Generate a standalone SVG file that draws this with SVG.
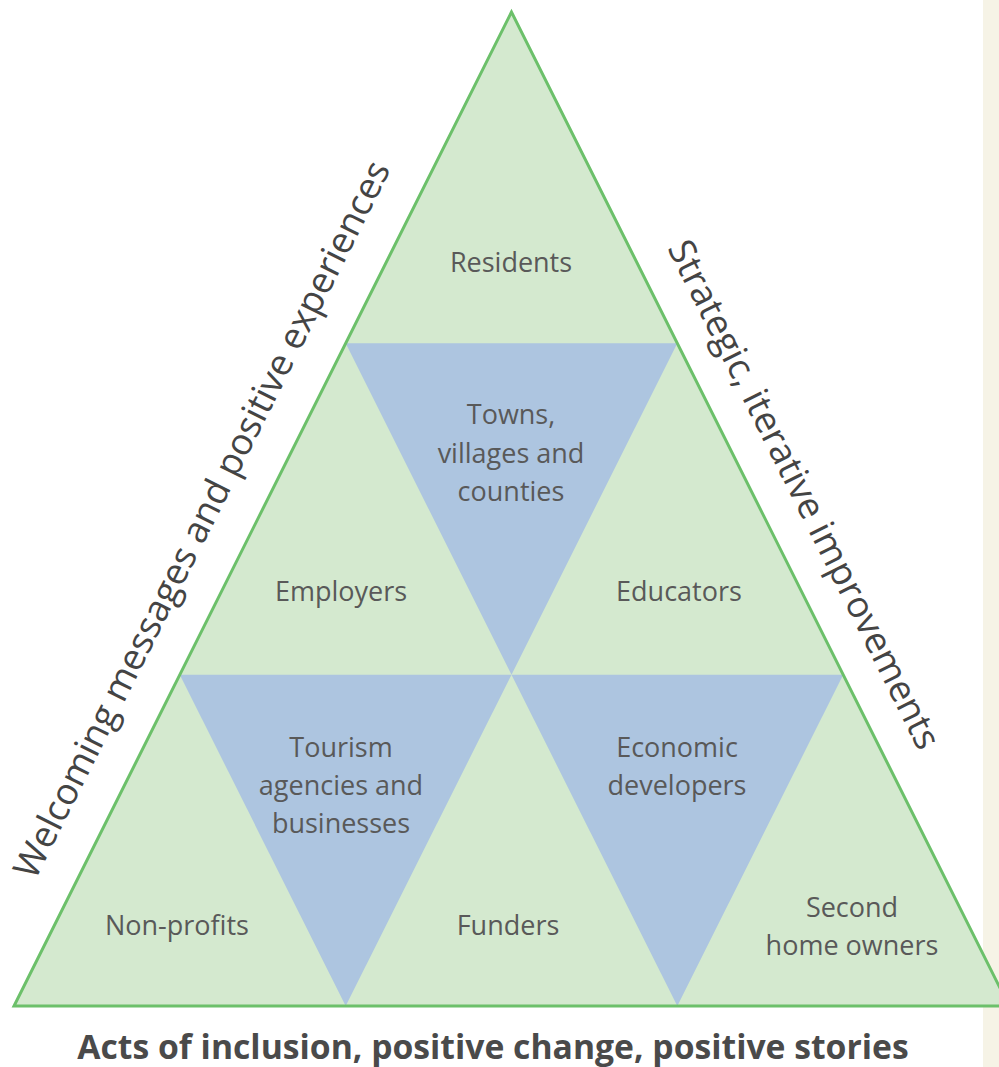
<svg xmlns="http://www.w3.org/2000/svg" width="999" height="1067" viewBox="0 0 999 1067">
<style>
.g{fill:#d4e9cf;}
.b{fill:#adc5e0;}
.lbl{font-family:"Open Sans","Noto Sans",sans-serif;font-size:27px;fill:#595959;text-anchor:middle;}
.side{font-family:"Open Sans","Noto Sans",sans-serif;font-size:36.6px;fill:#444444;text-anchor:middle;}
.base{font-family:"Open Sans","Noto Sans",sans-serif;font-size:33.7px;font-weight:bold;fill:#4a4a4a;text-anchor:middle;}
</style>
<rect x="0" y="0" width="999" height="1067" fill="#ffffff"/>
<rect x="983" y="0" width="16" height="1067" fill="#f6f3e6"/>
<g id="pyramid">
<polygon class="g" points="511.5,12 14,1006 1009,1006"/>
</g>
<g id="blue">
<polygon id="towns-shape" class="b" points="345.7,343.3 677.3,343.3 511.5,674.7"/>
<polygon id="tourism-shape" class="b" points="179.8,674.7 511.5,674.7 345.7,1006"/>
<polygon id="economic-shape" class="b" points="511.5,674.7 843.2,674.7 677.3,1006"/>
</g>
<g id="outline">
<polygon points="511.5,12 14,1006 1009,1006" fill="none" stroke="#6cc06a" stroke-width="3" stroke-linejoin="miter"/>
</g>
<g id="residents"><text class="lbl" x="511" y="272">Residents</text></g>
<g id="towns"><text class="lbl" x="511" y="424">Towns,</text><text class="lbl" x="511" y="463">villages and</text><text class="lbl" x="511" y="501">counties</text></g>
<g id="employers"><text class="lbl" x="341" y="601">Employers</text></g>
<g id="educators"><text class="lbl" x="679" y="601">Educators</text></g>
<g id="tourism"><text class="lbl" x="341" y="757">Tourism</text><text class="lbl" x="341" y="795">agencies and</text><text class="lbl" x="341" y="833">businesses</text></g>
<g id="economic"><text class="lbl" x="677" y="757">Economic</text><text class="lbl" x="677" y="795">developers</text></g>
<g id="nonprofits"><text class="lbl" x="177" y="935">Non-profits</text></g>
<g id="funders"><text class="lbl" x="508" y="935">Funders</text></g>
<g id="second"><text class="lbl" x="852" y="917">Second</text><text class="lbl" x="852" y="955">home owners</text></g>
<g id="labels">
<text class="side" transform="translate(213,525) rotate(-63.43)">Welcoming messages and positive experiences</text>
<text class="side" style="font-size:36.5px" transform="translate(793,500) rotate(63.43)">Strategic, iterative improvements</text>
<text class="base" x="493" y="1059">Acts of inclusion, positive change, positive stories</text>
</g>
</svg>
